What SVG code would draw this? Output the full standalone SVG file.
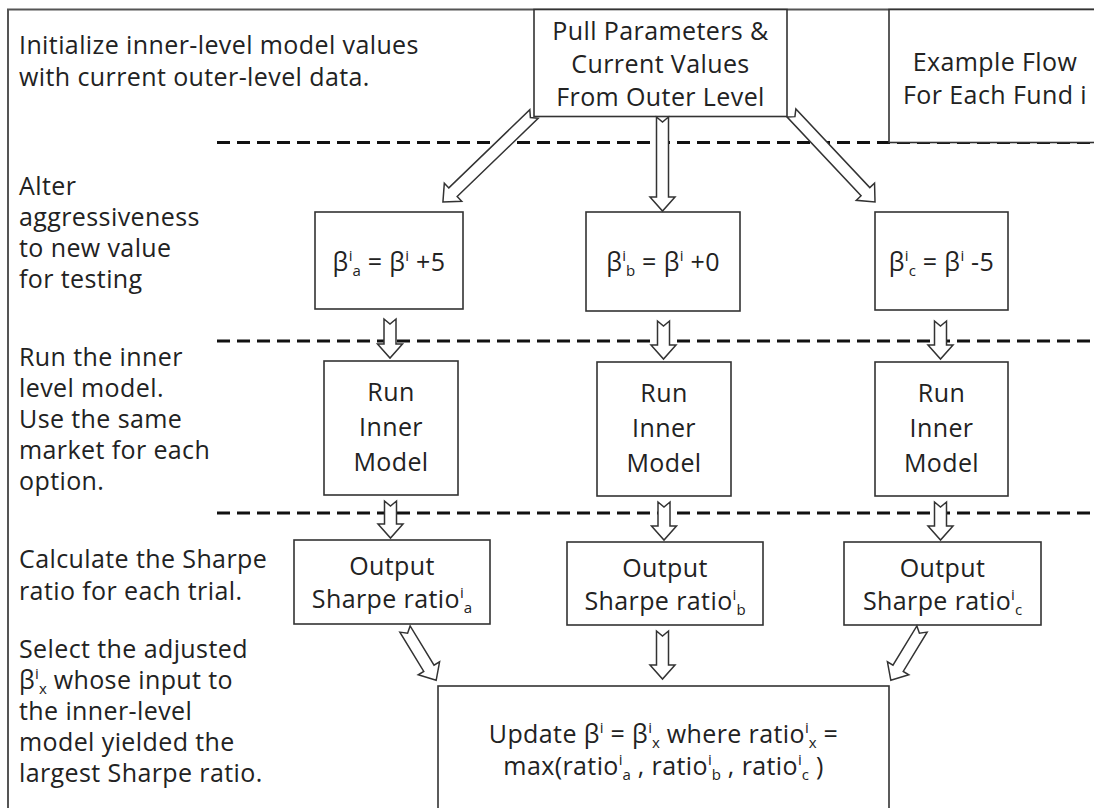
<svg xmlns="http://www.w3.org/2000/svg" width="1094" height="808" viewBox="0 0 1094 808">
<style>
.t{font-family:"Open Sans","Noto Sans",sans-serif;font-size:25px;letter-spacing:0.4px;fill:#222}
.c{text-anchor:middle}
.s{font-size:15px;letter-spacing:0}
.box{fill:#fff;stroke:#333;stroke-width:1.6}
.arr{fill:#fff;stroke:#333;stroke-width:1.5;stroke-linejoin:miter}
.dash{stroke:#111;stroke-width:3;stroke-dasharray:13 7;fill:none}
.frame{fill:none;stroke:#555;stroke-width:2}
</style>
<rect width="1094" height="808" fill="#fff"/>
<path class="frame" d="M1100 9.5H8V812"/>
<g id="dividers">
<line class="dash" x1="217" y1="142.5" x2="1100" y2="142.5"/>
<line class="dash" x1="217" y1="341" x2="1100" y2="341"/>
<line class="dash" x1="217" y1="513" x2="1100" y2="513"/>
</g>
<g id="labels">
<text class="t" x="19" y="54">Initialize inner-level model values</text>
<text class="t" x="19" y="86">with current outer-level data.</text>
<text class="t" x="19" y="195">Alter</text>
<text class="t" x="19" y="226">aggressiveness</text>
<text class="t" x="19" y="257">to new value</text>
<text class="t" x="19" y="288">for testing</text>
<text class="t" x="19" y="366">Run the inner</text>
<text class="t" x="19" y="397">level model.</text>
<text class="t" x="19" y="428">Use the same</text>
<text class="t" x="19" y="459">market for each</text>
<text class="t" x="19" y="490">option.</text>
<text class="t" x="19" y="568">Calculate the Sharpe</text>
<text class="t" x="19" y="600">ratio for each trial.</text>
<text class="t" x="19" y="658">Select the adjusted</text>
<text class="t" x="19" y="689">β<tspan class="s" dy="-10">i</tspan><tspan class="s" dy="15">x</tspan><tspan dy="-5"> whose input to</tspan></text>
<text class="t" x="19" y="720">the inner-level</text>
<text class="t" x="19" y="751">model yielded the</text>
<text class="t" x="19" y="782">largest Sharpe ratio.</text>
</g>
<g id="pull">
<rect class="box" x="534" y="9.5" width="253" height="107"/>
<text class="t c" x="660.5" y="40">Pull Parameters &amp;</text>
<text class="t c" x="660.5" y="73">Current Values</text>
<text class="t c" x="660.5" y="106">From Outer Level</text>
</g>
<g id="example">
<rect class="box" x="889" y="9.5" width="300" height="133"/>
<text class="t c" x="995" y="71">Example Flow</text>
<text class="t c" x="995" y="104">For Each Fund i</text>
</g>
<g id="beta-a">
<rect class="box" x="315" y="212" width="148" height="97"/>
<text class="t c" x="389" y="271">β<tspan class="s" dy="-10">i</tspan><tspan class="s" dy="15">a</tspan><tspan dy="-5"> = β</tspan><tspan class="s" dy="-10">i</tspan><tspan dy="10"> +5</tspan></text>
</g>
<g id="beta-b">
<rect class="box" x="586" y="212" width="154" height="99"/>
<text class="t c" x="663" y="271">β<tspan class="s" dy="-10">i</tspan><tspan class="s" dy="15">b</tspan><tspan dy="-5"> = β</tspan><tspan class="s" dy="-10">i</tspan><tspan dy="10"> +0</tspan></text>
</g>
<g id="beta-c">
<rect class="box" x="875" y="212" width="133" height="98"/>
<text class="t c" x="941.5" y="271">β<tspan class="s" dy="-10">i</tspan><tspan class="s" dy="15">c</tspan><tspan dy="-5"> = β</tspan><tspan class="s" dy="-10">i</tspan><tspan dy="10"> -5</tspan></text>
</g>
<g id="run-a">
<rect class="box" x="324" y="361" width="134" height="134"/>
<text class="t c" x="391" y="401">Run</text>
<text class="t c" x="391" y="436">Inner</text>
<text class="t c" x="391" y="471">Model</text>
</g>
<g id="run-b">
<rect class="box" x="597" y="362" width="134" height="134"/>
<text class="t c" x="664" y="402">Run</text>
<text class="t c" x="664" y="437">Inner</text>
<text class="t c" x="664" y="472">Model</text>
</g>
<g id="run-c">
<rect class="box" x="875" y="362" width="133" height="134"/>
<text class="t c" x="941.5" y="402">Run</text>
<text class="t c" x="941.5" y="437">Inner</text>
<text class="t c" x="941.5" y="472">Model</text>
</g>
<g id="out-a">
<rect class="box" x="294" y="540" width="196" height="84"/>
<text class="t c" x="392" y="575">Output</text>
<text class="t c" x="392" y="608">Sharpe ratio<tspan class="s" dy="-10">i</tspan><tspan class="s" dy="15">a</tspan></text>
</g>
<g id="out-b">
<rect class="box" x="567" y="542" width="196" height="83"/>
<text class="t c" x="665" y="577">Output</text>
<text class="t c" x="665" y="610">Sharpe ratio<tspan class="s" dy="-10">i</tspan><tspan class="s" dy="15">b</tspan></text>
</g>
<g id="out-c">
<rect class="box" x="844" y="542" width="197" height="83"/>
<text class="t c" x="942.5" y="577">Output</text>
<text class="t c" x="942.5" y="610">Sharpe ratio<tspan class="s" dy="-10">i</tspan><tspan class="s" dy="15">c</tspan></text>
</g>
<g id="update">
<rect class="box" x="438" y="686" width="451" height="200"/>
<text class="t c" x="663.5" y="743">Update β<tspan class="s" dy="-10">i</tspan><tspan dy="10"> = β</tspan><tspan class="s" dy="-10">i</tspan><tspan class="s" dy="15">x</tspan><tspan dy="-5"> where ratio</tspan><tspan class="s" dy="-10">i</tspan><tspan class="s" dy="15">x</tspan><tspan dy="-5"> =</tspan></text>
<text class="t c" x="663.5" y="775">max(ratio<tspan class="s" dy="-10">i</tspan><tspan class="s" dy="15">a</tspan><tspan dy="-5"> , ratio</tspan><tspan class="s" dy="-10">i</tspan><tspan class="s" dy="15">b</tspan><tspan dy="-5"> , ratio</tspan><tspan class="s" dy="-10">i</tspan><tspan class="s" dy="15">c</tspan><tspan dy="-5"> )</tspan></text>
</g>
<g id="connectors">
<polygon class="arr" transform="translate(534,114) rotate(46)" points="-6,0 0,5 6,0 6,112.6 12.5,112.6 0,126.6 -12.5,112.6 -6,112.6"/>
<polygon class="arr" points="656.5,117 662.5,122 668.5,117 668.5,197 675,197 662.5,211 650,197 656.5,197"/>
<polygon class="arr" transform="translate(791.5,113) rotate(-43.2)" points="-6,0 0,5 6,0 6,108 12.5,108 0,122 -12.5,108 -6,108"/>
<polygon class="arr" points="384,319 390,324 396,319 396,344 402.5,344 390,358 377.5,344 384,344"/>
<polygon class="arr" points="657.5,321 663.5,326 669.5,321 669.5,345 676,345 663.5,359 651,345 657.5,345"/>
<polygon class="arr" points="934.5,321 940.5,326 946.5,321 946.5,345 953,345 940.5,359 928,345 934.5,345"/>
<polygon class="arr" points="384.5,501 390.5,506 396.5,501 396.5,524 403,524 390.5,538 378,524 384.5,524"/>
<polygon class="arr" points="658,502 664,507 670,502 670,526 676.5,526 664,540 651.5,526 658,526"/>
<polygon class="arr" points="934.5,502 940.5,507 946.5,502 946.5,526 953,526 940.5,540 928,526 934.5,526"/>
<polygon class="arr" transform="translate(405,629) rotate(-31.3)" points="-6,0 0,5 6,0 6,46 12.5,46 0,60 -12.5,46 -6,46"/>
<polygon class="arr" points="656.5,631 662.5,636 668.5,631 668.5,665 675,665 662.5,679 650,665 656.5,665"/>
<polygon class="arr" transform="translate(922,629) rotate(31.3)" points="-6,0 0,5 6,0 6,46 12.5,46 0,60 -12.5,46 -6,46"/>
</g>
</svg>
